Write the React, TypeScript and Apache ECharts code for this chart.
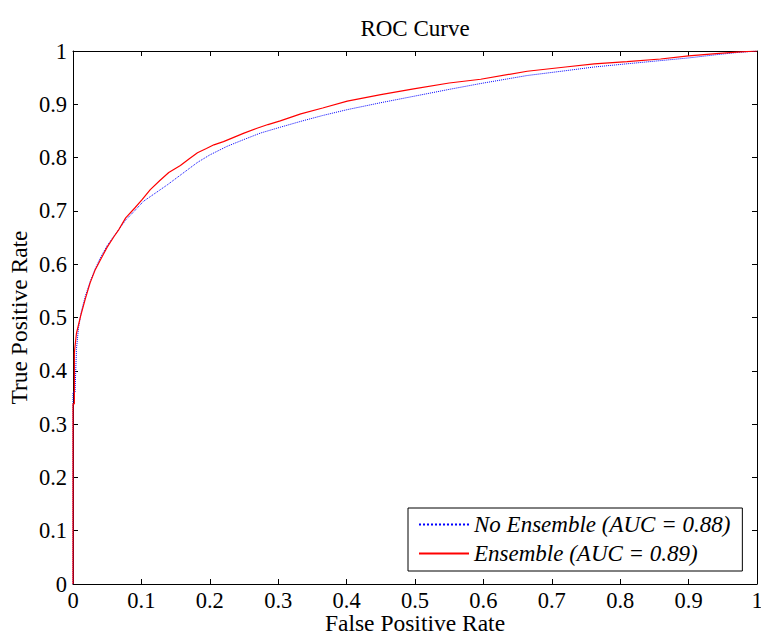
import React, { useEffect, useRef } from "react";
import * as echarts from "echarts";

const titleText = "ROC Curve";
const xName = "False Positive Rate";
const yName = "True Positive Rate";
const seriesNames = ["No Ensemble (AUC = 0.88)", "Ensemble (AUC = 0.89)"];

const noEnsFpr = [0, 0, 0.003, 0.005, 0.008, 0.012, 0.018, 0.025, 0.032, 0.04, 0.05, 0.06, 0.067, 0.077, 0.09, 0.103, 0.12, 0.138, 0.16, 0.182, 0.2, 0.225, 0.25, 0.274, 0.303, 0.333, 0.365, 0.401, 0.45, 0.498, 0.55, 0.596, 0.664, 0.72, 0.762, 0.81, 0.859, 0.9, 0.94, 0.97, 1];
const noEnsTpr = [0, 0.36, 0.36, 0.44, 0.48, 0.51, 0.54, 0.567, 0.59, 0.612, 0.635, 0.653, 0.665, 0.683, 0.7, 0.718, 0.733, 0.749, 0.77, 0.791, 0.805, 0.821, 0.834, 0.846, 0.857, 0.868, 0.879, 0.89, 0.903, 0.915, 0.928, 0.939, 0.954, 0.963, 0.97, 0.976, 0.982, 0.987, 0.993, 0.997, 1];

const ensFpr = [0, 0, 0.002, 0.002, 0.005, 0.011, 0.018, 0.025, 0.032, 0.04, 0.05, 0.06, 0.067, 0.077, 0.09, 0.101, 0.113, 0.127, 0.14, 0.157, 0.17, 0.182, 0.195, 0.206, 0.22, 0.235, 0.25, 0.269, 0.285, 0.303, 0.333, 0.365, 0.401, 0.45, 0.498, 0.55, 0.596, 0.664, 0.72, 0.762, 0.81, 0.859, 0.9, 0.94, 0.97, 1];
const ensTpr = [0, 0.338, 0.338, 0.434, 0.47, 0.502, 0.535, 0.565, 0.588, 0.608, 0.632, 0.652, 0.665, 0.687, 0.705, 0.721, 0.74, 0.757, 0.772, 0.785, 0.798, 0.809, 0.817, 0.824, 0.83, 0.838, 0.846, 0.855, 0.862, 0.869, 0.882, 0.893, 0.906, 0.918, 0.929, 0.94, 0.947, 0.962, 0.97, 0.976, 0.98, 0.985, 0.991, 0.995, 0.998, 1];

const FONT = "'Liberation Serif', 'Times New Roman', Times, 'DejaVu Serif', serif";

function zip(a: number[], b: number[]) {
  return a.map((v, i) => [v, b[i]]);
}

export default function App() {
  const ref = useRef<HTMLDivElement>(null);
  useEffect(() => {
    if (!ref.current) return;
    const chart = echarts.init(ref.current, undefined, { renderer: "svg" });
    const baseAxis = {
      type: "value" as const,
      min: 0,
      max: 1,
      interval: 0.1,
      axisLine: { onZero: false, lineStyle: { color: "#000", width: 1 } },
      axisTick: { inside: true, length: 5, lineStyle: { color: "#000" } },
      splitLine: { show: false },
    };
    const tickStyle = { color: "#000", fontFamily: FONT, fontSize: 22.5 };
    const nameStyle = { color: "#000", fontFamily: FONT, fontSize: 23.5, lineHeight: 22 };
    chart.setOption({
      animation: false,
      backgroundColor: "#fff",
      grid: {
        left: 73,
        top: 51,
        right: 4,
        bottom: 50,
        containLabel: false,
        outerBoundsMode: "none",
      },
      graphic: [
        {
          type: "text",
          x: 415,
          y: 28,
          style: {
            text: titleText,
            fill: "#000",
            fontFamily: FONT,
            fontSize: 23,
            textAlign: "center",
            textVerticalAlign: "middle",
          },
        },
      ],
      legend: {
        orient: "vertical",
        left: 408,
        top: 508,
        padding: [5, 12, 6, 10],
        itemGap: 6,
        itemWidth: 50,
        itemHeight: 14,
        backgroundColor: "#fff",
        borderColor: "#000",
        borderWidth: 1,
        borderRadius: 0,
        itemStyle: { opacity: 0 },
        textStyle: {
          color: "#000",
          fontFamily: FONT,
          fontSize: 23,
          fontStyle: "italic",
          lineHeight: 23,
        },
        data: seriesNames,
      },
      xAxis: [
        {
          ...baseAxis,
          position: "bottom",
          axisLabel: { ...tickStyle, margin: 5 },
          name: xName,
          nameLocation: "middle",
          nameGap: 28,
          nameMoveOverlap: false,
          nameTextStyle: { ...nameStyle },
        },
        {
          ...baseAxis,
          position: "top",
          axisLabel: { show: false },
        },
      ],
      yAxis: [
        {
          ...baseAxis,
          position: "left",
          axisLabel: { ...tickStyle, margin: 6 },
          name: yName,
          nameLocation: "middle",
          nameGap: 43,
          nameMoveOverlap: false,
          nameTextStyle: { ...nameStyle },
        },
        {
          ...baseAxis,
          position: "right",
          axisLabel: { show: false },
        },
      ],
      series: [
        {
          name: seriesNames[0],
          type: "line",
          xAxisIndex: 0,
          yAxisIndex: 0,
          data: zip(noEnsFpr, noEnsTpr),
          symbol: "none",
          showSymbol: false,
          lineStyle: { color: "#0000ff", width: 1, type: "dotted" },
          itemStyle: { color: "#0000ff" },
        },
        {
          name: seriesNames[1],
          type: "line",
          xAxisIndex: 0,
          yAxisIndex: 0,
          data: zip(ensFpr, ensTpr),
          symbol: "none",
          showSymbol: false,
          lineStyle: { color: "#ff0000", width: 1.2, type: "solid" },
          itemStyle: { color: "#ff0000" },
        },
      ],
    });
    return () => chart.dispose();
  }, []);
  return (
    <div
      ref={ref}
      style={{ position: "absolute", left: 0, top: 0, width: 761, height: 634 }}
    />
  );
}
